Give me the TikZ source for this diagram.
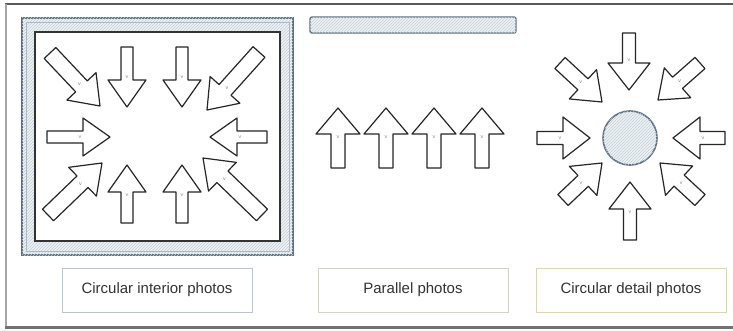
\documentclass[tikz,border=0pt]{standalone}
\usepackage{fontspec}
\setmainfont{Liberation Sans}
\usetikzlibrary{calc,patterns}
\definecolor{framegray}{HTML}{5A5A5A}
\definecolor{hatchblue}{HTML}{C3CED8}
\definecolor{edgeblue}{HTML}{5B6F80}
\definecolor{fillblue}{HTML}{EEF2F5}
\definecolor{boxa}{HTML}{B9C6D2}
\definecolor{boxb}{HTML}{D6D3C2}
\definecolor{boxc}{HTML}{E6D59A}
\tikzset{
  barrowstyle/.style={draw=black!85, line width=1.2pt, fill=white, line join=round},
  hatched/.style={fill=fillblue, postaction={pattern=north east lines, pattern color=hatchblue}},
  labelbox/.style={draw, line width=0.8pt, fill=white, minimum width=190pt, minimum height=44pt, font=\fontsize{15}{17}\selectfont, text=black!80},
  vmark/.style={font=\fontsize{4}{4}\selectfont, text=black!60, inner sep=0pt}
}
% #1 name, #2 tail, #3 tip, #4 shaft half width, #5 head half width, #6 head length
\newcommand\blockarrow[6]{%
  \coordinate (#1-t) at (#2);
  \coordinate (#1-h) at (#3);
  \coordinate (#1-b) at ($(#1-h)!#6!(#1-t)$);
  \draw[barrowstyle] ($(#1-t)!#4!90:(#1-h)$) -- ($(#1-b)!#4!-90:(#1-t)$) -- ($(#1-b)!#5!-90:(#1-t)$) -- (#1-h) -- ($(#1-b)!#5!90:(#1-t)$) -- ($(#1-b)!#4!90:(#1-t)$) -- ($(#1-t)!#4!-90:(#1-h)$) -- cycle;
  \node[vmark] (#1-v) at ($(#1-b)!3pt!(#1-t)$) {V};
}
\begin{document}
\begin{tikzpicture}[x=1pt,y=-1pt]
\useasboundingbox (0,0) rectangle (733,331);
\fill[white] (0,0) rectangle (733,331);
% outer frame
\draw[framegray, line width=1.6pt] (5,4) -- (733,4);
\draw[black!35, line width=1.2pt] (6,4) -- (6,327);
\draw[black!55, line width=2.6pt] (5,327.5) -- (733,327.5);

% left panel
\draw[edgeblue, line width=1.5pt, hatched] (22,18) rectangle (293,255);
\draw[edgeblue!50, line width=0.6pt] (26,22) rectangle (289,251);
\draw[black!80, line width=1.3pt, fill=white] (35,32) rectangle (280,241);
\blockarrow{la1}{50,53}{100,106}{8pt}{20pt}{27pt}
\blockarrow{la2}{127,47}{127,107}{6pt}{19pt}{27pt}
\blockarrow{la3}{182,47}{182,107}{6pt}{19pt}{27pt}
\blockarrow{la4}{259,52}{207,110}{8pt}{20pt}{27pt}
\blockarrow{la5}{47,137}{110,137}{6pt}{19pt}{27pt}
\blockarrow{la6}{267,137}{210,137}{6pt}{19pt}{27pt}
\blockarrow{la7}{48,215}{102,163}{8pt}{20pt}{27pt}
\blockarrow{la8}{127,223}{127,165}{6pt}{19pt}{27pt}
\blockarrow{la9}{182,223}{182,165}{6pt}{19pt}{27pt}
\blockarrow{la10}{262,215}{203,158}{8pt}{20pt}{27pt}

% middle panel
\draw[edgeblue, line width=1.4pt, hatched, rounded corners=2pt] (310,17) rectangle (516,33);
\blockarrow{ma1}{338,168}{338,108}{7pt}{22pt}{26pt}
\blockarrow{ma2}{386,168}{386,108}{7pt}{22pt}{26pt}
\blockarrow{ma3}{434,168}{434,108}{7pt}{22pt}{26pt}
\blockarrow{ma4}{482,168}{482,108}{7pt}{22pt}{26pt}

% right panel
\draw[edgeblue, line width=1.6pt, hatched] (630,138) circle (27);
\blockarrow{ra1}{629,33}{629,90}{6.5pt}{21pt}{27pt}
\blockarrow{ra2}{630,240}{630,182}{6.5pt}{21pt}{27pt}
\blockarrow{ra3}{537,138}{590,138}{6.5pt}{21pt}{27pt}
\blockarrow{ra4}{725,138}{673,138}{6.5pt}{21pt}{27pt}
\blockarrow{ra5}{560,63}{602,102}{7.5pt}{20pt}{26pt}
\blockarrow{ra6}{700,63}{658,100}{7.5pt}{20pt}{26pt}
\blockarrow{ra7}{563,200}{602,163}{7.5pt}{20pt}{26pt}
\blockarrow{ra8}{700,200}{660,163}{7.5pt}{20pt}{26pt}

% labels
\node[labelbox, draw=boxa] (l1) at (157,290) {Circular interior photos};
\node[labelbox, draw=boxb] (l2) at (413,290) {Parallel photos};
\node[labelbox, draw=boxc] (l3) at (631,290) {Circular detail photos};
\end{tikzpicture}
\end{document}
